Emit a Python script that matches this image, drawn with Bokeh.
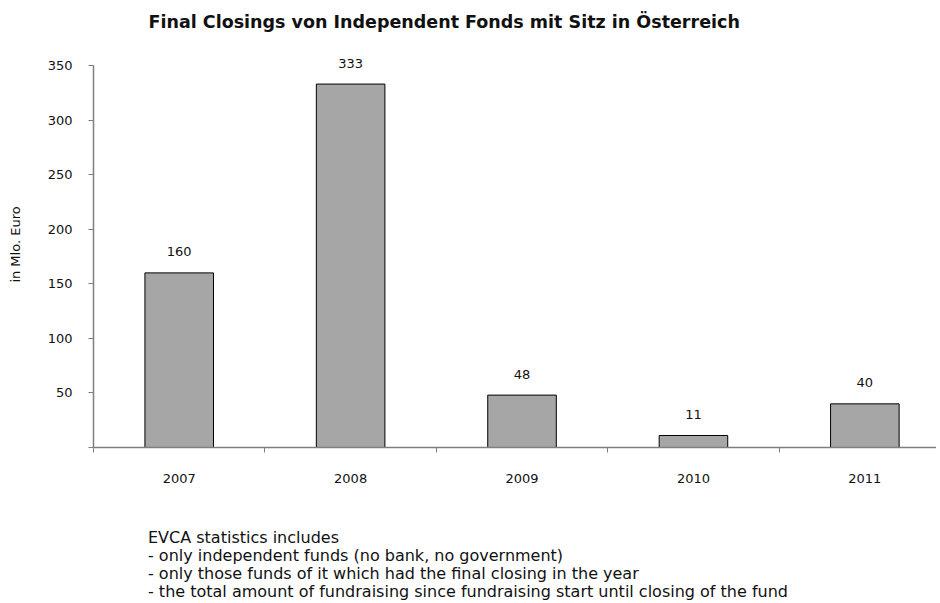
from bokeh.plotting import figure
from bokeh.models import Range1d, FixedTicker, LabelSet, ColumnDataSource, Div
from bokeh.layouts import column
from bokeh.core.properties import value
from bokeh.embed import file_html
from bokeh.resources import INLINE

years = ["2007", "2008", "2009", "2010", "2011"]
amounts = [160, 333, 48, 11, 40]
y_ticks = [0, 50, 100, 150, 200, 250, 300, 350]
title_text = "Final Closings von Independent Fonds mit Sitz in Österreich"
y_label = "in Mlo. Euro"
notes = [
    "EVCA statistics includes",
    "- only independent funds (no bank, no government)",
    "- only those funds of it which had the final closing in the year",
    "- the total amount of fundraising since fundraising start until closing of the fund",
]

FONT = "DejaVu Sans"
TXT = "#111111"
AX = "#7f7f7f"
centers = [i + 0.5 for i in range(len(years))]
src = ColumnDataSource(dict(x=centers, top=amounts,
                            lbl=[str(a) for a in amounts]))

p = figure(width=936, height=520, output_backend="svg", toolbar_location=None,
           x_range=Range1d(0, 4.918), y_range=Range1d(0, 372),
           min_border_left=93, min_border_right=0, min_border_top=40,
           min_border_bottom=73)
p.grid.visible = False
p.outline_line_color = None
p.background_fill_color = "white"

p.title.text = title_text
p.title.text_font = FONT
p.title.text_font_size = "17.5px"
p.title.text_font_style = "bold"
p.title.text_color = TXT
p.title.align = "left"
p.title.offset = 55
p.title.standoff = 19

p.vbar(x="x", top="top", width=0.4, bottom=0, source=src,
       fill_color="#A6A6A6", line_color="black", line_width=1)
p.add_layout(LabelSet(x="x", y="top", text="lbl", source=src,
                      text_align="center", text_baseline="middle", y_offset=21,
                      text_font=value(FONT), text_font_size=value("13px"),
                      text_color=TXT))

xa = p.xaxis[0]
xa.ticker = FixedTicker(ticks=centers, minor_ticks=list(range(len(years))))
xa.major_label_overrides = {c: y for c, y in zip(centers, years)}
xa.major_tick_line_color = None
xa.major_tick_out = 0
xa.major_tick_in = 0
xa.minor_tick_out = 5
xa.minor_tick_in = 0
xa.minor_tick_line_color = AX
xa.axis_line_color = AX
xa.axis_line_width = 1.5
xa.major_label_standoff = 21
xa.major_label_text_font = FONT
xa.major_label_text_font_size = "13px"
xa.major_label_text_color = TXT

ya = p.yaxis[0]
ya.ticker = FixedTicker(ticks=y_ticks)
ya.bounds = (0, 350)
ya.major_label_overrides = {0: ""}
ya.major_tick_out = 5
ya.major_tick_in = 0
ya.minor_tick_line_color = None
ya.major_tick_line_color = AX
ya.axis_line_color = AX
ya.axis_line_width = 1.5
ya.major_label_standoff = 16
ya.major_label_text_font = FONT
ya.major_label_text_font_size = "13px"
ya.major_label_text_color = TXT
ya.axis_label = y_label
ya.axis_label_text_font = FONT
ya.axis_label_text_font_size = "13px"
ya.axis_label_text_font_style = "normal"
ya.axis_label_text_color = TXT
ya.axis_label_standoff = 22

notes_div = Div(text="<br>".join(notes), width=760, height=72,
                margin=(9, 0, 0, 148),
                styles={"font-family": FONT, "font-size": "16px",
                        "line-height": "18px", "color": TXT,
                        "white-space": "nowrap"})

layout = column(p, notes_div, spacing=0)
open("out.html", "w").write(file_html(layout, INLINE))
